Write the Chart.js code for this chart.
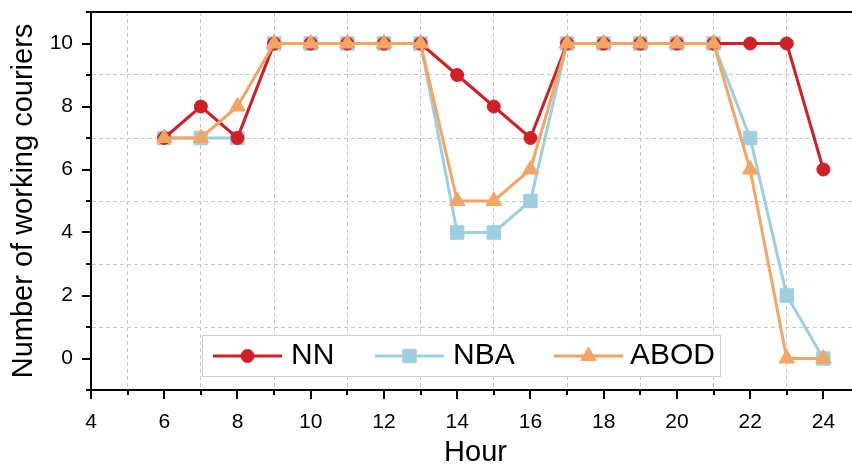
<!DOCTYPE html>
<html><head><meta charset="utf-8">
<script src="https://cdn.jsdelivr.net/npm/chart.js@4"></script>
<style>html,body{margin:0;padding:0;background:#fff;overflow:hidden;}#wrap{width:860px;height:467px;}</style>
</head><body><div id="wrap"><canvas id="c" width="860" height="467"></canvas></div>
<script>
const hours = [6,7,8,9,10,11,12,13,14,15,16,17,18,19,20,21,22,23,24];
const nnValues   = [7,8,7,10,10,10,10,10,9,8,7,10,10,10,10,10,10,10,6];
const nbaValues  = [7,7,7,10,10,10,10,10,4,4,5,10,10,10,10,10,7,2,0];
const abodValues = [7,7,8,10,10,10,10,10,5,5,6,10,10,10,10,10,6,0,0];
const seriesNames = ['NN','NBA','ABOD'];
const xTickValues = [4,5,6,7,8,9,10,11,12,13,14,15,16,17,18,19,20,21,22,23,24,25];
const yTickValues = [-1,0,1,2,3,4,5,6,7,8,9,10,11];
const xLabelValues = [4,6,8,10,12,14,16,18,20,22,24];
const yLabelValues = [0,2,4,6,8,10];

const RED = '#d01f26', BLUE = '#9ccfe0', ORANGE = '#f5a462';
const FONT = '"Liberation Sans", Arial, sans-serif';

function toXY(vals){ return hours.map((h,i)=>({x:h,y:vals[i]})); }

function mkDataset(label, vals, color, style, radius, order){
  return {label, data: toXY(vals), borderColor: color, backgroundColor: color,
    pointBackgroundColor: color, pointBorderColor: color, pointBorderWidth: 1,
    pointStyle: style, pointRadius: radius, borderWidth: 3, tension: 0, order, clip: false};
}

const gridColor = ctx => (ctx.tick && Math.abs(ctx.tick.value % 2) === 1) ? '#c9c9c9' : 'rgba(0,0,0,0)';

const legendItems = [
  {name: seriesNames[0], color: RED, style: 'circle', radius: 6.5, x0: 213, x1: 282, tx: 291},
  {name: seriesNames[1], color: BLUE, style: 'rect', radius: 9.5, x0: 375, x1: 444, tx: 453},
  {name: seriesNames[2], color: ORANGE, style: 'triangle', radius: 9, x0: 554, x1: 623, tx: 630}
];

function drawMarker(ctx, style, r, x, y){
  if (window.Chart && Chart.helpers && Chart.helpers.drawPoint){
    Chart.helpers.drawPoint(ctx, {pointStyle: style, radius: r, rotation: 0, borderWidth: 1}, x, y);
    return;
  }
  ctx.beginPath();
  if (style==='circle') ctx.arc(x,y,r,0,Math.PI*2);
  else if (style==='rect'){ const s=r*Math.SQRT1_2; ctx.rect(x-s,y-s,2*s,2*s); }
  else { ctx.moveTo(x,y-r); ctx.lineTo(x+r*0.866,y+r*0.5); ctx.lineTo(x-r*0.866,y+r*0.5); ctx.closePath(); }
  ctx.fill(); ctx.stroke();
}

function zeroPad(s){ s.paddingTop = 0; s.paddingBottom = 0; s.paddingLeft = 0; s.paddingRight = 0; }

const decor = {
  id: 'decor',
  beforeDatasetsDraw(chart){
    const {ctx, chartArea: a, scales: {x, y}} = chart;
    ctx.save();
    ctx.strokeStyle = '#000'; ctx.lineWidth = 2;
    ctx.beginPath(); ctx.moveTo(a.left - 1, a.top); ctx.lineTo(a.right, a.top); ctx.stroke();
    x.ticks.forEach(t => {
      const px = Math.round(x.getPixelForValue(t.value));
      const len = (t.value % 2 === 0) ? 9 : 5;
      ctx.beginPath(); ctx.moveTo(px, a.bottom); ctx.lineTo(px, a.bottom + len); ctx.stroke();
    });
    y.ticks.forEach(t => {
      const py = Math.round(y.getPixelForValue(t.value));
      const len = (Math.abs(t.value % 2) === 0) ? 9 : 5;
      ctx.beginPath(); ctx.moveTo(a.left, py); ctx.lineTo(a.left - len, py); ctx.stroke();
    });
    ctx.restore();
  },
  afterDraw(chart){
    const ctx = chart.ctx;
    ctx.save();
    ctx.fillStyle = '#fff';
    ctx.fillRect(202, 335, 518, 41);
    ctx.strokeStyle = '#cfcfcf'; ctx.lineWidth = 1;
    ctx.strokeRect(202.5, 335.5, 518, 41);
    const cy = 356;
    legendItems.forEach(it => {
      ctx.strokeStyle = it.color; ctx.lineWidth = 3;
      ctx.beginPath(); ctx.moveTo(it.x0, cy); ctx.lineTo(it.x1, cy); ctx.stroke();
      ctx.fillStyle = it.color; ctx.strokeStyle = it.color; ctx.lineWidth = 1;
      drawMarker(ctx, it.style, it.radius, (it.x0 + it.x1) / 2, cy);
      ctx.fillStyle = '#000';
      ctx.font = '30px ' + FONT;
      ctx.textBaseline = 'middle'; ctx.textAlign = 'left';
      ctx.fillText(it.name, it.tx, cy);
    });
    ctx.restore();
  }
};

new Chart(document.getElementById('c'), {
  type: 'line',
  data: {
    datasets: [
      mkDataset(seriesNames[0], nnValues, RED, 'circle', 6.5, 1),
      mkDataset(seriesNames[1], nbaValues, BLUE, 'rect', 9.5, 2),
      mkDataset(seriesNames[2], abodValues, ORANGE, 'triangle', 9, 0)
    ]
  },
  options: {
    responsive: false,
    devicePixelRatio: 1,
    animation: false,
    layout: {autoPadding: false, padding: {top: 12, left: 0, right: 0, bottom: 0}},
    plugins: {legend: {display: false}, tooltip: {enabled: false}},
    scales: {
      x: {
        type: 'linear', min: 4, max: 25,
        afterBuildTicks: s => { s.ticks = xTickValues.map(v => ({value: v})); },
        afterFit: s => { s.height = 77; zeroPad(s); },
        ticks: {
          autoSkip: false, maxRotation: 0, padding: 12,
          color: '#000', font: {family: FONT, size: 21},
          callback: v => xLabelValues.includes(v) ? String(v) : ''
        },
        grid: {color: gridColor, lineWidth: 1, drawTicks: true, tickLength: 8, tickColor: 'rgba(0,0,0,0)'},
        border: {display: true, color: '#000', width: 2, dash: [4, 3]},
        title: {display: true, text: 'Hour', color: '#000', font: {family: FONT, size: 29, lineHeight: 1}, padding: {top: 0, bottom: 0}}
      },
      y: {
        type: 'linear', min: -1, max: 11,
        afterBuildTicks: s => { s.ticks = yTickValues.map(v => ({value: v})); },
        afterFit: s => { s.width = 91; zeroPad(s); },
        ticks: {
          autoSkip: false, padding: 10,
          color: '#000', font: {family: FONT, size: 21},
          callback: v => yLabelValues.includes(v) ? String(v) : ''
        },
        grid: {color: gridColor, lineWidth: 1, drawTicks: true, tickLength: 8, tickColor: 'rgba(0,0,0,0)'},
        border: {display: true, color: '#000', width: 2, dash: [4, 3]},
        title: {display: true, text: 'Number of working couriers', color: '#000', font: {family: FONT, size: 29, lineHeight: 1}, padding: {top: 9, bottom: 0}}
      }
    }
  },
  plugins: [decor]
});
</script>
</body></html>
